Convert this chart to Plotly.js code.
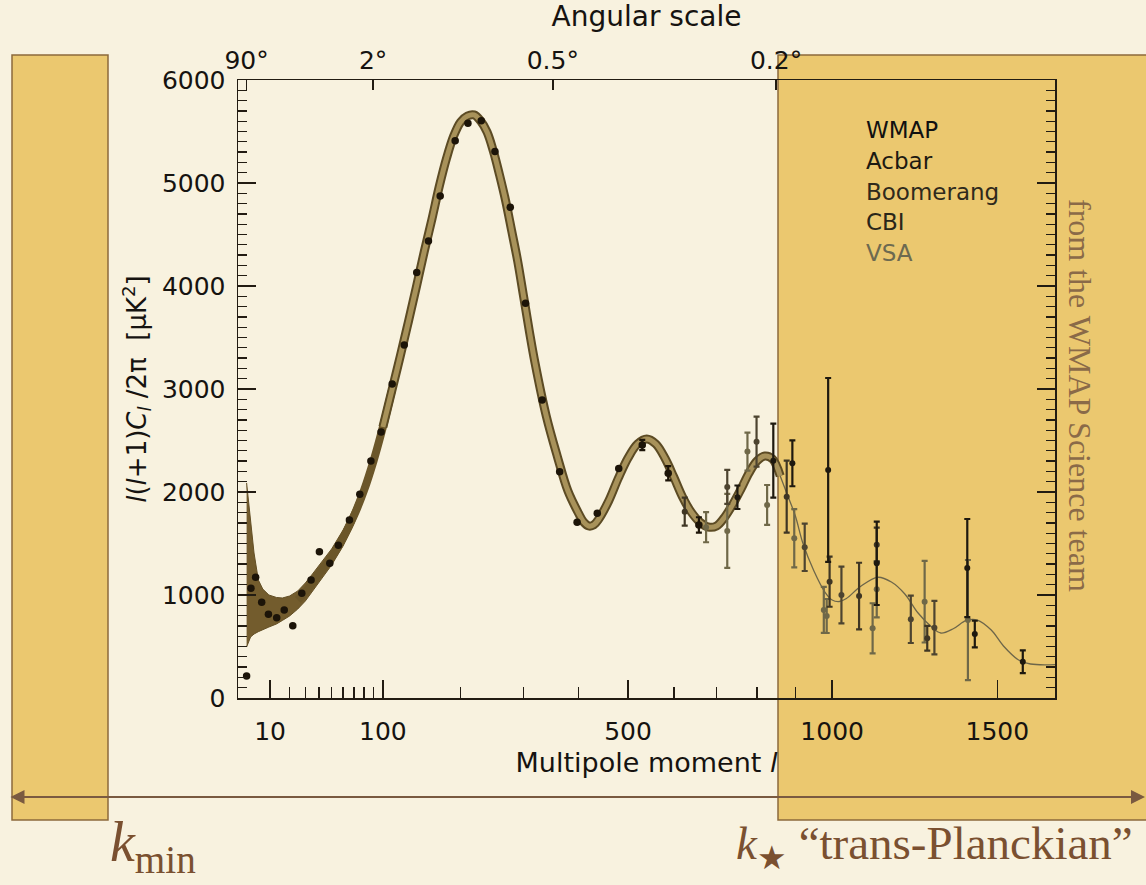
<!DOCTYPE html>
<html><head><meta charset="utf-8">
<script src="https://cdn.plot.ly/plotly-3.0.1.min.js"></script>
<style>html,body{margin:0;padding:0;background:#f7f0dc;}#chart{width:1146px;height:885px;}</style>
</head><body><div id="chart"></div>
<script>
// ---- data (multipole l, l(l+1)C_l/2pi in uK^2) ----
const modelL = [2,3,4,5,7,10,13,16,20,25,30,40,50,60,70,80,90,100,110,120,130,140,150,160,170,180,190,200,210,220,230,240,250,260,270,280,290,300,310,320,340,360,380,400,410,420,430,440,460,480,500,520,540,560,580,600,620,640,660,680,700,720,740,760,780,800,820,840,860,880,900,920,950,980,1000,1020,1040,1080,1130,1170,1210,1250,1290,1320,1360,1400,1435,1480,1520,1570,1610,1700];
const modelV = [1185,1039,961,913,864,835,830,845,884,952,1029,1209,1369,1554,1767,2015,2306,2631,2981,3321,3661,4001,4340,4651,4972,5243,5457,5593,5651,5661,5603,5496,5311,5078,4826,4535,4243,3903,3564,3253,2738,2350,2010,1796,1709,1670,1680,1738,1913,2136,2330,2466,2515,2466,2330,2146,1952,1806,1709,1660,1670,1758,1884,2029,2185,2301,2350,2321,2156,1961,1767,1505,1233,1029,952,937,966,1083,1172,1126,1010,825,694,631,675,753,757,660,505,369,330,325];
const bandL  = [2,3,4,5.4,7,9.5,13,16,20,25,30,35,40,50,60,70,80,90,100];
const bandHi = [2088,1699,1408,1146,1058,1000,976,971,990,1039,1117,1204,1291,1447,1631,1845,2088,2379,2709];
const bandLo = [495,592,621,644,665,689,719,753,796,864,942,1029,1126,1291,1476,1690,1942,2233,2554];

const wmapL = [2,3.1,4.5,6.6,9.3,13.1,17,21.9,27.6,34,40.2,48.5,55.8,65.8,75.8,87.1,98,110.5,124.7,140.2,155.3,171.1,192.1,210.8,231,252.6,277.6,303.5,332.6,364.6,397.5,437,480.7,530.4,587.5,658];
const wmapV = [214,1065,1172,929,813,780,855,702,1017,1146,1421,1308,1483,1728,1978,2301,2583,3049,3428,4130,4438,4874,5411,5580,5605,5305,4765,3832,2894,2197,1706,1793,2227,2457,2182,1680];
const wmapE = [0,0,0,0,0,0,0,0,0,0,0,0,0,0,0,0,0,0,0,0,0,0,0,0,0,0,0,0,0,0,0,0,0,50,70,75];

const acbarL = [751,842,892,989,1127,1403,1427,1584];
const acbarV = [1949,2304,2279,2214,1308,1262,621,352];
const acbarE = [114,359,223,893,405,476,129,110];

const boomL = [726,799,925,1026,1228,1300];
const boomV = [2049,2489,1463,1000,764,683];
const boomE = [165,243,230,275,230,260];

const cbiL = [625,877,993,1076,1127,1278];
const cbiV = [1809,1955,1129,990,1489,580];
const cbiE = [136,350,243,323,165,121];

const vsaL = [675,726,776,826,897,977,985,1115,1127,1270,1405];
const vsaV = [1658,1622,2392,1874,1551,855,796,677,1055,935,757];
const vsaE = [146,359,184,194,282,223,165,243,272,396,583];

const xTickL = [10,100,500,1000,1500];
const xTickText = ['10','100','500','1000','1500'];
const xMinorL = [20,30,40,50,60,70,80,90,200,300,400,600,700,800,900];
const angL = [2,89.4,352,849];
const angText = ['90°','2°','0.5°','0.2°'];
const legendNames = ['WMAP','Acbar','Boomerang','CBI','VSA'];

// ---- axis transform: horizontal axis is linear in l^0.6 ----
const P = 0.6;
const u = l => Math.pow(l, P);

// plot-area pixel helpers (for decorations only)
const W = 1146, H = 885, ML = 238, MR = 91, MT = 80, MB = 187;
const PW = W - ML - MR, PH = H - MT - MB;
const px = x => (x - ML) / PW;
const py = y => (H - MB - y) / PH;

const ink = '#221c12';
const axFont = {family:'DejaVu Sans, sans-serif', size:25, color:'#161310'};

const traces = [];
// low-l cosmic variance band
traces.push({x: bandL.map(u).concat(bandL.slice().reverse().map(u)),
  y: bandHi.concat(bandLo.slice().reverse()), mode:'lines', fill:'toself',
  fillcolor:'#735c2d', line:{color:'#634f25', width:1}, hoverinfo:'skip', showlegend:false});
const lowIdx = modelL.map((l,i)=>i).filter(i=>modelL[i]>=25 && modelL[i]<=110);
traces.push({x: lowIdx.map(i=>u(modelL[i])), y: lowIdx.map(i=>modelV[i]), mode:'lines',
  line:{color:'#6b5629', width:8, shape:'spline'}, hoverinfo:'skip', showlegend:false});
const midIdx = modelL.map((l,i)=>i).filter(i=>modelL[i]>=100 && modelL[i]<=860);
traces.push({x: midIdx.map(i=>u(modelL[i])), y: midIdx.map(i=>modelV[i]), mode:'lines',
  line:{color:'#5c4b24', width:9, shape:'spline'}, hoverinfo:'skip', showlegend:false});
traces.push({x: midIdx.map(i=>u(modelL[i])), y: midIdx.map(i=>modelV[i]), mode:'lines',
  line:{color:'#a8925a', width:5, shape:'spline'}, hoverinfo:'skip', showlegend:false});
const hiIdx = modelL.map((l,i)=>i).filter(i=>modelL[i]>=860);
traces.push({x: hiIdx.map(i=>u(modelL[i])), y: hiIdx.map(i=>modelV[i]), mode:'lines',
  line:{color:'#6d664a', width:1.3, shape:'spline'}, hoverinfo:'skip', showlegend:false});

function pts(L, V, E, color, size, name){
  return {x: L.map(u), y: V, mode:'markers', name:name, showlegend:false,
    marker:{color:color, size:size, symbol:'circle'},
    error_y:{type:'data', array:E, visible:true, color:color, thickness:2.2, width:3}};
}
traces.push(pts(vsaL, vsaV, vsaE, '#6f6848', 6, 'VSA'));
traces.push(pts(cbiL, cbiV, cbiE, '#3f3624', 6, 'CBI'));
traces.push(pts(boomL, boomV, boomE, '#4d4430', 6, 'Boomerang'));
traces.push(pts(acbarL, acbarV, acbarE, '#1e190f', 6, 'Acbar'));
traces.push(pts(wmapL, wmapV, wmapE, '#1c1408', 7.5, 'WMAP'));
// carrier for the top (angular scale) axis
traces.push({x:[], y:[], xaxis:'x2', yaxis:'y', mode:'markers', showlegend:false, hoverinfo:'skip'});

const legendColors = ['#111111','#1d1a12','#2f2a1c','#2a2619','#6d6a50'];
const annotations = [];
legendNames.forEach((n,i)=>{
  annotations.push({xref:'paper', yref:'paper', x:px(864), y:py(130 + i*30.8), xanchor:'left', yanchor:'middle',
    text:n, showarrow:false, font:{family:'DejaVu Sans, sans-serif', size:23, color:legendColors[i]}});
});
annotations.push({xref:'paper', yref:'paper', x:px(1080), y:py(395), xanchor:'center', yanchor:'middle',
  text:'from the WMAP Science team', textangle:90, showarrow:false,
  font:{family:'Liberation Serif, serif', size:32, color:'#8a6a48'}});
annotations.push({xref:'paper', yref:'paper', x:px(1145), y:py(797), ax:-1136, ay:0, text:'',
  showarrow:true, arrowside:'end+start', arrowhead:2, arrowsize:1.4, arrowwidth:2, arrowcolor:'#7a5a40'});
annotations.push({xref:'paper', yref:'paper', x:px(108), y:py(846), xanchor:'left', yanchor:'middle',
  text:'<i>k</i><sub>min</sub>', showarrow:false, font:{family:'Liberation Serif, serif', size:56, color:'#7a5030'}});
annotations.push({xref:'paper', yref:'paper', x:px(734), y:py(846), xanchor:'left', yanchor:'middle',
  text:'<i>k</i><sub>★</sub> “trans-Planckian”', showarrow:false, font:{family:'Liberation Serif, serif', size:47, color:'#7a5030'}});

const rectStyle = {type:'rect', xref:'paper', yref:'paper', layer:'below', fillcolor:'#ebc86f', line:{color:'#8c6a3c', width:1.5}};
const shapes = [
  Object.assign({}, rectStyle, {x0:px(12), x1:px(108), y0:py(820), y1:py(55)}),
  Object.assign({}, rectStyle, {x0:px(778), x1:px(1160), y0:py(820), y1:py(55)})
];

const layout = {
  width:W, height:H, margin:{l:ML, r:MR, t:MT, b:MB, pad:0},
  paper_bgcolor:'#f8f2df', plot_bgcolor:'rgba(0,0,0,0)', showlegend:false, hovermode:false,
  font:{family:'DejaVu Sans, sans-serif', color:'#161310'},
  xaxis:{range:[u(0.44), u(1693)], showline:true, linecolor:ink, linewidth:1.5, mirror:false,
    ticks:'inside', ticklen:18, tickwidth:1.5, tickcolor:ink, tickmode:'array',
    tickvals:xTickL.map(u), ticktext:xTickText, showgrid:false, zeroline:false,
    minor:{tickmode:'array', tickvals:xMinorL.map(u), ticks:'inside', ticklen:11, tickwidth:1.5, tickcolor:ink, showgrid:false},
    tickfont:axFont, ticklabelstandoff:10, automargin:false,
    title:{text:'Multipole moment <i>l</i>', font:{family:'DejaVu Sans, sans-serif', size:27, color:'#161310'}, standoff:8}},
  xaxis2:{overlaying:'x', side:'top', anchor:'y', range:[u(0.44), u(1693)], showline:true, linecolor:ink, linewidth:1.5,
    ticks:'inside', ticklen:10, tickwidth:1.5, tickcolor:ink, tickmode:'array', tickvals:angL.map(u), ticktext:angText,
    showgrid:false, zeroline:false, tickfont:axFont, ticklabelstandoff:0, automargin:false,
    title:{text:'Angular scale', font:{family:'DejaVu Sans, sans-serif', size:28, color:'#161310'}, standoff:10}},
  yaxis:{range:[0,6000], showline:true, linecolor:ink, linewidth:1.5, mirror:'ticks',
    ticks:'inside', ticklen:18, tickwidth:1.5, tickcolor:ink, tickmode:'array', tickvals:[0,1000,2000,3000,4000,5000,6000],
    minor:{dtick:100, ticks:'inside', ticklen:9, tickwidth:1.3, tickcolor:ink, showgrid:false},
    showgrid:false, zeroline:false, tickfont:axFont, ticklabelstandoff:6, automargin:false,
    title:{text:'<i>l</i>(<i>l</i>+1)<i>C</i><sub><i>l</i></sub> /2π  [μK<sup>2</sup>]', font:{family:'DejaVu Sans, sans-serif', size:26, color:'#161310'}, standoff:8}},
  shapes:shapes, annotations:annotations
};
Plotly.newPlot('chart', traces, layout, {displayModeBar:false, staticPlot:true});
</script></body></html>
